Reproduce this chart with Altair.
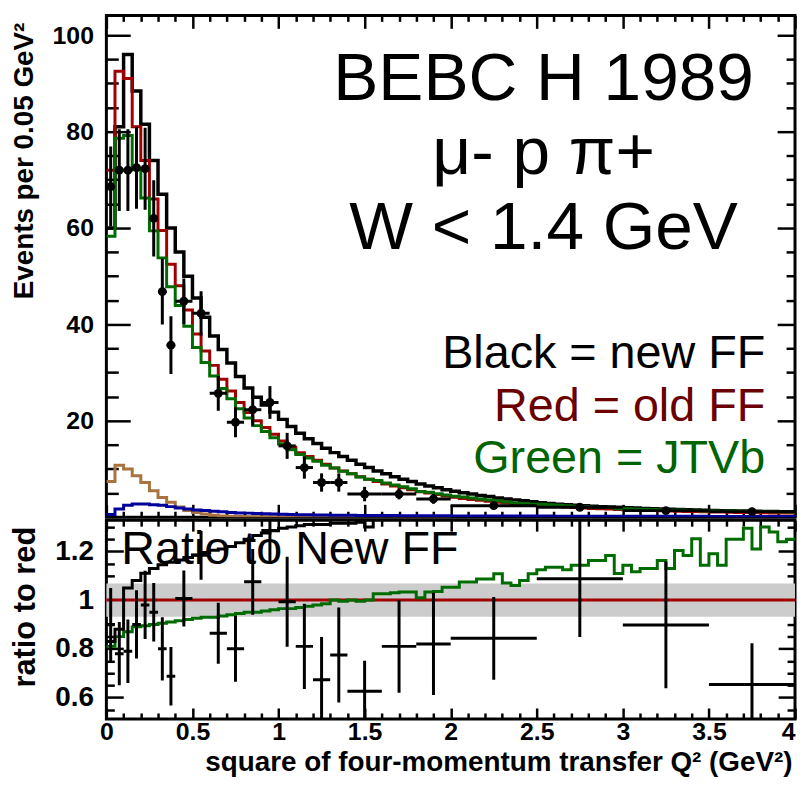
import altair as alt
import pandas as pd

# ------------------------------------------------------------------ data
BIN_W = 0.05  # histogram bin width in GeV^2 (80 bins from 0 to 4)

red_old_ff = [72, 92.5, 91, 81, 74, 66, 59.5, 52.5, 48, 43,
              38, 34.5, 31.5, 28.6, 26.2, 23.8, 21.7, 20.0, 18.6, 17.2,
              15.8, 14.5, 13.4, 12.6, 11.8, 11.0, 10.2, 9.6, 9.0, 8.4,
              7.9, 7.4, 6.9, 6.5, 6.1, 5.7, 5.3, 5.0, 4.7, 4.4,
              4.15, 3.9, 3.7, 3.5, 3.3, 3.1, 2.95, 2.8, 2.65, 2.5,
              2.4, 2.3, 2.2, 2.1, 2.0, 1.9, 1.8, 1.75, 1.7, 1.6,
              1.55, 1.5, 1.45, 1.4, 1.35, 1.3, 1.25, 1.2, 1.17, 1.13,
              1.1, 1.06, 1.03, 1.0, 0.97, 0.94, 0.92, 0.89, 0.87, 0.85]

black_new_ff = [60, 81, 96, 88.4, 81.5, 74, 67, 60, 55, 50,
                45.5, 41.5, 37.6, 34.8, 32.0, 29.2, 26.8, 24.9, 23.3, 21.8,
                20.3, 18.8, 17.4, 16.3, 15.3, 14.3, 13.4, 12.6, 11.8, 11.0,
                10.3, 9.6, 9.0, 8.4, 7.9, 7.4, 6.9, 6.5, 6.1, 5.7,
                5.4, 5.1, 4.8, 4.5, 4.3, 4.0, 3.8, 3.6, 3.4, 3.2,
                3.0, 2.85, 2.7, 2.6, 2.5, 2.4, 2.3, 2.2, 2.1, 2.0,
                1.95, 1.9, 1.8, 1.75, 1.7, 1.65, 1.6, 1.55, 1.5, 1.45,
                1.4, 1.37, 1.33, 1.3, 1.27, 1.24, 1.21, 1.18, 1.15, 1.12]

green_jtvb = [58.3, 78.6, 79.2, 72.1, 66.2, 59.4, 53.8, 47.8, 43.9, 39.6,
              35.2, 32.1, 29.3, 26.7, 24.6, 22.5, 20.6, 19.0, 17.8, 16.5,
              15.2, 14.0, 13.0, 12.3, 11.6, 10.8, 10.2, 9.55, 9.0, 8.36,
              7.9, 7.6, 7.1, 6.7, 6.3, 5.9, 5.35, 5.17, 4.86, 4.63,
              4.37, 4.19, 3.97, 3.80, 3.59, 3.43, 3.16, 2.97, 2.86, 2.77,
              2.70, 2.61, 2.50, 2.36, 2.29, 2.17, 2.09, 2.04, 2.01, 1.77,
              1.77, 1.67, 1.64, 1.58, 1.57, 1.47, 1.51, 1.42, 1.46, 1.29,
              1.31, 1.21, 1.29, 1.25, 1.26, 1.14, 1.20, 1.14, 1.08, 1.06]

brown_bkg = [7.4, 10.8, 10.0, 8.6, 7.2, 5.5, 4.1, 3.1, 2.1, 1.4,
             1.0, 0.65, 0.4, 0.25, 0.18, 0.14, 0.11, 0.09, 0.08, 0.07,
             0.06, 0.05, 0.05, 0.04, 0.04, 0.03, 0.03, 0.03, 0.02, 0.02,
             0.02, 0.02, 0.02, 0.02, 0.02, 0.01, 0.01, 0.01, 0.01, 0.01]

blue_bkg = [0.55, 1.7, 2.5, 2.75, 2.75, 2.6, 2.5, 2.2, 1.9, 1.7,
            1.5, 1.4, 1.25, 1.15, 1.0, 0.9, 0.85, 0.75, 0.7, 0.65,
            0.6, 0.55, 0.52, 0.5, 0.47, 0.45, 0.43, 0.41, 0.4, 0.38,
            0.37, 0.36, 0.35, 0.34, 0.33, 0.32, 0.31, 0.3, 0.3, 0.29,
            0.28, 0.28, 0.27, 0.27, 0.26, 0.26, 0.25, 0.25, 0.24, 0.24,
            0.23, 0.23, 0.22, 0.22, 0.22, 0.21, 0.21, 0.21, 0.2, 0.2,
            0.2, 0.2, 0.19, 0.19, 0.19, 0.19, 0.18, 0.18, 0.18, 0.18,
            0.17, 0.17, 0.17, 0.17, 0.17, 0.16, 0.16, 0.16, 0.16, 0.16]

green_ratio = [0.81, 0.85, 0.87, 0.89, 0.895, 0.90, 0.905, 0.91, 0.915, 0.92,
               0.925, 0.93, 0.93, 0.935, 0.94, 0.945, 0.95, 0.95, 0.955, 0.96,
               0.965, 0.965, 0.97, 0.975, 0.98, 0.985, 1.0, 0.995, 1.0, 0.995,
               1.0, 1.026, 1.026, 1.03, 1.033, 1.033, 1.01, 1.033, 1.035, 1.053,
               1.053, 1.074, 1.074, 1.087, 1.087, 1.108, 1.07, 1.06, 1.08, 1.108,
               1.125, 1.135, 1.135, 1.125, 1.143, 1.143, 1.163, 1.163, 1.183, 1.109,
               1.143, 1.116, 1.13, 1.13, 1.163, 1.13, 1.204, 1.183, 1.252, 1.143,
               1.19, 1.143, 1.25, 1.25, 1.295, 1.21, 1.30, 1.28, 1.24, 1.25]

black_ratio = [0.83, 0.88, 1.05, 1.08, 1.11, 1.13, 1.145, 1.155, 1.165, 1.175,
               1.185, 1.195, 1.205, 1.21, 1.22, 1.235, 1.25, 1.265, 1.275, 1.285,
               1.295, 1.30, 1.305, 1.31, 1.31, 1.31, 1.315, 1.315, 1.315, 1.32,
               1.30, 1.45]

# measured points (variable bins)
pt_lo = [0, 0.05, 0.1, 0.15, 0.2, 0.25, 0.3, 0.35, 0.4, 0.5, 0.6, 0.7, 0.8,
         0.9, 1.0, 1.1, 1.2, 1.3, 1.4, 1.6, 1.8, 2.0, 2.5, 3.0, 3.5]
pt_hi = [0.05, 0.1, 0.15, 0.2, 0.25, 0.3, 0.35, 0.4, 0.5, 0.6, 0.7, 0.8, 0.9,
         1.0, 1.1, 1.2, 1.3, 1.4, 1.6, 1.8, 2.0, 2.5, 3.0, 3.5, 4.0]
pt_events = [68.6, 72.0, 72.0, 72.5, 72.3, 62.0, 46.8, 35.7, 44.8, 42.3, 25.7, 19.7, 22.3,
             23.8, 14.8, 10.3, 7.2, 7.2, 4.8, 4.8, 3.8, 2.4, 2.07, 1.37, 1.16]
pt_events_err = [8.3, 8.5, 8.5, 8.5, 8.5, 7.9, 6.8, 6.0, 4.7, 4.6, 3.6, 3.1, 3.3,
                 3.4, 2.7, 2.3, 1.9, 1.9, 1.5, 1.1, 1.0, 0.5, 0.45, 0.37, 0.34]
pt_ratio = [0.90, 0.78, 0.79, 0.90, 0.98, 0.95, 0.80, 0.687, 1.007, 1.184, 0.864, 0.80, 1.075,
            1.286, 0.993, 0.81, 0.673, 0.775, 0.626, 0.81, 0.82, 0.843, 1.088, 0.898, 0.653]
pt_ratio_err = [0.15, 0.13, 0.13, 0.14, 0.14, 0.12, 0.13, 0.12, 0.115, 0.10, 0.125, 0.135, 0.135,
                0.13, 0.185, 0.175, 0.175, 0.195, 0.125, 0.19, 0.21, 0.17, 0.24, 0.26, 0.17]

band_lo, band_hi = 0.932, 1.068

header_lines = ["BEBC H 1989", "μ- p π+", "W < 1.4 GeV"]
key_lines = ["Black = new FF", "Red = old FF", "Green = JTVb"]
ratio_note = "Ratio to New FF"
y1_title = "Events per 0.05 GeV²"
y2_title = "ratio to red"
x_title = "square of four-momentum transfer Q² (GeV²)"

x_major_inner = [0, 0.5, 1, 1.5, 2, 2.5, 3, 3.5]
x_major_last = [4]
x_major = x_major_inner + x_major_last
x_minor = [round(0.1 * i, 1) for i in range(1, 40) if i % 5]
y1_major = [20, 40, 60, 80, 100]
y1_minor = [5, 10, 15, 25, 30, 35, 45, 50, 55, 65, 70, 75, 85, 90, 95]
y2_major = [0.6, 0.8, 1.0, 1.2]
y2_minor = [0.55, 0.65, 0.7, 0.75, 0.85, 0.9, 0.95, 1.05, 1.1, 1.15, 1.25, 1.3]

# ------------------------------------------------------------------ style
W, H1, H2 = 693, 505, 200
C_BLACK = "#000000"
C_RED = "#a00000"
C_GREEN = "#006b00"
C_BROWN = "#a8733f"
C_BLUE = "#00009a"
C_RED_TXT = "#6b0000"
C_GREEN_TXT = "#006400"
AXF = "Liberation Sans, Arial"
TXF = "Liberation Sans, Arial"

xs = alt.Scale(domain=[0, 4], nice=False, zero=False)
y1s = alt.Scale(domain=[0, 104.1], nice=False, zero=False)
y2s = alt.Scale(domain=[0.512, 1.328], nice=False, zero=False)


def tick_axis(orient, offset, values, size):
    return alt.Axis(orient=orient, offset=offset, values=values, tickSize=size,
                    tickWidth=2.5, tickColor="black", labels=False, domain=False,
                    grid=False, title=None)


def step_frame(vals):
    n = len(vals)
    return pd.DataFrame({"q": [round(i * BIN_W, 3) for i in range(n + 1)],
                         "v": list(vals) + [vals[-1]]})


def hist(vals, color, yscale, xaxis, yaxis, width=3):
    return alt.Chart(step_frame(vals)).mark_line(
        interpolate="step-after", color=color, strokeWidth=width, clip=True
    ).encode(x=alt.X("q:Q", scale=xs, axis=xaxis),
             y=alt.Y("v:Q", scale=yscale, axis=yaxis))


pts = pd.DataFrame({"lo": pt_lo, "hi": pt_hi, "ev": pt_events, "er": pt_events_err,
                    "r": pt_ratio, "rr": pt_ratio_err})
pts["mid"] = (pts["lo"] + pts["hi"]) / 2
pts["ev_lo"] = pts["ev"] - pts["er"]
pts["ev_hi"] = pts["ev"] + pts["er"]
pts["r_lo"] = pts["r"] - pts["rr"]
pts["r_hi"] = pts["r"] + pts["rr"]

one = pd.DataFrame({"k": [0]})

# ------------------------------------------------------------------ top panel
y1_label_axis = alt.Axis(orient="left", values=y1_major, format="d", ticks=False,
                         domain=False, grid=False, labelFont=AXF, labelFontSize=25,
                         labelFontWeight="bold", labelColor="black", labelPadding=13,
                         title=y1_title, titleFont=AXF, titleFontSize=28,
                         titleFontWeight="bold", titleColor="black", titleAngle=270,
                         titleX=-82, titleY=146, titleAlign="center",
                         titleBaseline="middle")

t_blue = hist(blue_bkg, C_BLUE, y1s, None, tick_axis("left", -W, y1_minor, 9))
t_brown = hist(brown_bkg, C_BROWN, y1s, tick_axis("bottom", -H1, x_minor, 6),
               tick_axis("left", -W, y1_major, 18))
t_black = hist(black_new_ff, C_BLACK, y1s, tick_axis("top", -H1, x_major, 13),
               y1_label_axis, width=3.5)
t_red = hist(red_old_ff, C_RED, y1s, tick_axis("top", -H1, x_minor, 6),
             tick_axis("right", -W, y1_major, 24))
t_green = hist(green_jtvb, C_GREEN, y1s, tick_axis("bottom", -H1, x_major, 13),
               tick_axis("right", -W, y1_minor, 12))

t_ev = alt.Chart(pts).mark_rule(color="black", strokeWidth=3, clip=True).encode(
    x=alt.X("mid:Q", scale=xs, axis=None),
    y=alt.Y("ev_lo:Q", scale=y1s, axis=None), y2="ev_hi:Q")
t_eh = alt.Chart(pts).mark_rule(color="black", strokeWidth=3, clip=True).encode(
    x=alt.X("lo:Q", scale=xs, axis=None), x2="hi:Q",
    y=alt.Y("ev:Q", scale=y1s, axis=None))
t_dot = alt.Chart(pts).mark_circle(size=80, color="black", opacity=1).encode(
    x=alt.X("mid:Q", scale=xs, axis=None),
    y=alt.Y("ev:Q", scale=y1s, axis=None))

t_head = alt.Chart(one).mark_text(
    text=header_lines, font=TXF, fontSize=68, color="black", align="center",
    baseline="alphabetic", lineHeight=75
).encode(x=alt.value(440), y=alt.value(85))
t_key = [
    alt.Chart(one).mark_text(text=key_lines[i], font=TXF, fontSize=47, color=c,
                             align="right", baseline="alphabetic"
                             ).encode(x=alt.value(663), y=alt.value(yv))
    for i, (c, yv) in enumerate([(C_BLACK, 355), (C_RED_TXT, 408), (C_GREEN_TXT, 460)])
]

top = alt.layer(t_brown, t_blue, t_black, t_red, t_green, t_ev, t_eh, t_dot,
                t_head, *t_key).resolve_axis(x="independent", y="independent"
                                             ).properties(width=W, height=H1)

# ------------------------------------------------------------------ bottom panel
y2_label_axis = alt.Axis(orient="left", values=y2_major, format="~g", ticks=False,
                         domain=False, grid=False, labelFont=AXF, labelFontSize=28,
                         labelFontWeight="bold", labelColor="black", labelPadding=13,
                         title=y2_title, titleFont=AXF, titleFontSize=31,
                         titleFontWeight="bold", titleColor="black", titleAngle=270,
                         titleX=-81, titleY=87, titleAlign="center",
                         titleBaseline="middle")
x_label_axis = alt.Axis(orient="bottom", values=x_major_inner, format="~g", ticks=False,
                        domain=False, grid=False, labelFont=AXF, labelFontSize=25,
                        labelFontWeight="bold", labelColor="black", labelPadding=1,
                        labelFlush=False, labelOverlap=False,
                        title=x_title, titleFont=AXF, titleFontSize=28,
                        titleFontWeight="bold", titleColor="black",
                        titleX=W - 3, titleY=58, titleAlign="right",
                        titleBaseline="bottom")
x_last_label_axis = alt.Axis(orient="bottom", values=x_major_last, format="~g",
                             ticks=False, domain=False, grid=False, labelFont=AXF,
                             labelFontSize=25, labelFontWeight="bold",
                             labelColor="black", labelPadding=1, labelFlush=False,
                             labelAlign="right", labelOverlap=False, title=None)

band_df = pd.DataFrame({"q0": [0], "q1": [4], "b0": [band_lo], "b1": [band_hi]})
b_band = alt.Chart(band_df).mark_rect(color="#cccccc").encode(
    x=alt.X("q0:Q", scale=xs, axis=tick_axis("top", -H2, x_major, 11)), x2="q1:Q",
    y=alt.Y("b0:Q", scale=y2s, axis=y2_label_axis), y2="b1:Q")

unity_df = pd.DataFrame({"q0": [0], "q1": [4], "r": [1.0]})
b_unity = alt.Chart(unity_df).mark_rule(color=C_RED, strokeWidth=3).encode(
    x=alt.X("q0:Q", scale=xs, axis=tick_axis("top", -H2, x_minor, 6)), x2="q1:Q",
    y=alt.Y("r:Q", scale=y2s, axis=tick_axis("right", -W, y2_major, 17)))

b_green = hist(green_ratio, C_GREEN, y2s, tick_axis("bottom", -H2, x_major, 11),
               tick_axis("right", -W, y2_minor, 8))
b_black = hist(black_ratio, C_BLACK, y2s, tick_axis("bottom", -H2, x_minor, 6),
               tick_axis("left", -W, y2_major, 17))

b_note = alt.Chart(one).mark_text(text=ratio_note, font=TXF, fontSize=47, color="black",
                                  align="left", baseline="alphabetic"
                                  ).encode(x=alt.value(15), y=alt.value(44))

b_ev = alt.Chart(pts).mark_rule(color="black", strokeWidth=3, clip=True).encode(
    x=alt.X("mid:Q", scale=xs, axis=x_label_axis),
    y=alt.Y("r_lo:Q", scale=y2s, axis=tick_axis("left", -W, y2_minor, 8)), y2="r_hi:Q")
b_eh = alt.Chart(pts).mark_rule(color="black", strokeWidth=3, clip=True).encode(
    x=alt.X("lo:Q", scale=xs, axis=x_last_label_axis), x2="hi:Q",
    y=alt.Y("r:Q", scale=y2s, axis=None))

bottom = alt.layer(b_band, b_note, b_unity, b_green, b_black, b_ev, b_eh
                   ).resolve_axis(x="independent", y="independent"
                                  ).properties(width=W, height=H2)

chart = alt.vconcat(top, bottom, spacing=3, bounds="flush").properties(
    padding={"left": 0, "top": 2, "right": 0, "bottom": 0},
    background="white",
).configure_view(stroke="black", strokeWidth=3)

chart.save("out.html", embed_options={"renderer": "svg", "actions": False})
